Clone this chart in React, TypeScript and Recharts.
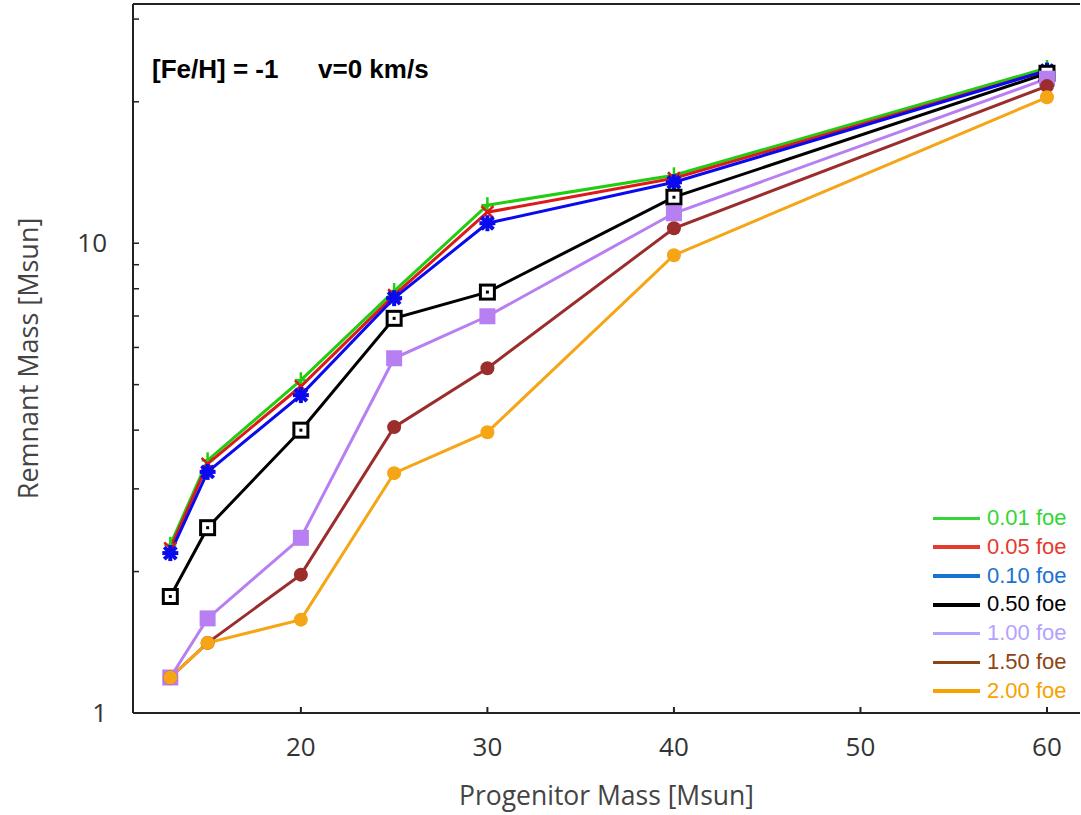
import React from 'react';
import { LineChart, Line, XAxis, YAxis, Legend } from 'recharts';

// Progenitor masses [Msun]
const masses = [13, 15, 20, 25, 30, 40, 60];

// Remnant masses [Msun] for each explosion energy
const foe001 = [2.28, 3.45, 5.11, 7.91, 12.05, 13.95, 23.6];
const foe005 = [2.24, 3.39, 4.96, 7.75, 11.64, 13.75, 23.3];
const foe010 = [2.19, 3.26, 4.75, 7.64, 11.03, 13.48, 23.3];
const foe050 = [1.77, 2.48, 4.0, 6.92, 7.87, 12.53, 23.0];
const foe100 = [1.19, 1.59, 2.36, 5.69, 6.99, 11.58, 22.4];
const foe150 = [1.19, 1.41, 1.97, 4.06, 5.42, 10.76, 21.6];
const foe200 = [1.19, 1.41, 1.58, 3.24, 3.96, 9.43, 20.45];

const seriesValues = [foe001, foe005, foe010, foe050, foe100, foe150, foe200];
const seriesLabels = ['0.01 foe', '0.05 foe', '0.10 foe', '0.50 foe', '1.00 foe', '1.50 foe', '2.00 foe'];
const lineColors = ['#22cc11', '#dd1a1a', '#0a0aee', '#000000', '#b77ff2', '#9b2d2d', '#f5a516'];
const legendColors = ['#33d633', '#e53a2f', '#1a72d0', '#000000', '#b3a3ff', '#8f4512', '#f7a200'];
const markerKinds = ['plus', 'cross', 'star', 'openSquare', 'square', 'circle', 'circle'];

const xTicks = [20, 30, 40, 50, 60];
const yTicks = [1, 2, 3, 4, 5, 6, 7, 8, 9, 10, 20, 30];
const yLabelTicks = [1, 10];

const titleLeft = '[Fe/H] = -1';
const titleRight = 'v=0 km/s';
const xLabel = 'Progenitor Mass [Msun]';
const yLabel = 'Remnant Mass [Msun]';

const data = masses.map((m, i) => {
  const row: Record<string, number> = { m };
  seriesValues.forEach((s, k) => {
    row['s' + k] = s[i];
  });
  return row;
});

const labelFont = '"Open Sans", "DejaVu Sans", sans-serif';

function makeDot(kind: string, color: string, k: number) {
  return (props: any) => {
    const { cx, cy, index } = props;
    const key = `dot-${k}-${index}`;
    if (cx == null || cy == null) return <g key={key} />;
    if (kind === 'plus') {
      return (
        <g key={key} stroke={color} strokeWidth={2.5}>
          <line x1={cx - 6} y1={cy} x2={cx + 6} y2={cy} />
          <line x1={cx} y1={cy - 8} x2={cx} y2={cy + 6} />
        </g>
      );
    }
    if (kind === 'cross') {
      return (
        <g key={key} stroke={color} strokeWidth={2.5}>
          <line x1={cx - 6} y1={cy - 6} x2={cx + 6} y2={cy + 6} />
          <line x1={cx - 6} y1={cy + 6} x2={cx + 6} y2={cy - 6} />
        </g>
      );
    }
    if (kind === 'star') {
      return (
        <g key={key} stroke={color} strokeWidth={4}>
          <line x1={cx - 8} y1={cy} x2={cx + 8} y2={cy} />
          <line x1={cx} y1={cy - 8} x2={cx} y2={cy + 8} />
          <line x1={cx - 6} y1={cy - 6} x2={cx + 6} y2={cy + 6} />
          <line x1={cx - 6} y1={cy + 6} x2={cx + 6} y2={cy - 6} />
        </g>
      );
    }
    if (kind === 'openSquare') {
      return (
        <g key={key}>
          <rect x={cx - 7} y={cy - 7} width={14} height={14} fill="#fff" stroke={color} strokeWidth={3} />
          <rect x={cx - 1.5} y={cy - 1.5} width={3} height={3} fill={color} />
        </g>
      );
    }
    if (kind === 'square') {
      return <rect key={key} x={cx - 8} y={cy - 8} width={16} height={16} fill={color} />;
    }
    return <circle key={key} cx={cx} cy={cy} r={7} fill={color} />;
  };
}

// Zero-height outer box so the legend reserves no space in the chart layout.
const renderLegend = () => (
  <div style={{ height: 0, overflow: 'visible', position: 'relative' }}>
    <div
      style={{
        position: 'absolute',
        left: 0,
        top: 0,
        fontFamily: '"Liberation Sans", Arial, sans-serif',
        fontSize: 22,
        whiteSpace: 'nowrap',
      }}
    >
      {seriesLabels.map((lab, k) => (
        <div key={lab} style={{ display: 'flex', alignItems: 'center', height: 28.8 }}>
          <div style={{ width: 47, height: 3.5, background: legendColors[k], marginRight: 7 }} />
          <span style={{ color: legendColors[k], lineHeight: '28.8px' }}>{lab}</span>
        </div>
      ))}
    </div>
  </div>
);

const YLabel = (props: any) => {
  const vb = props.viewBox || { x: 0, y: 0, width: 0, height: 0 };
  const cx = 27;
  const cy = vb.y + vb.height / 2;
  return (
    <text
      x={cx}
      y={cy}
      transform={`rotate(-90 ${cx} ${cy})`}
      textAnchor="middle"
      dominantBaseline="central"
      fontFamily={labelFont}
      fontSize={27}
      fill="#444"
    >
      {yLabel}
    </text>
  );
};

export default function App() {
  return (
    <div style={{ position: 'absolute', left: 0, top: 0, width: 1081, height: 815, background: '#fff' }}>
      <LineChart
        width={1081}
        height={815}
        data={data}
        margin={{ top: 3, right: 0, bottom: 0, left: 0 }}
      >
        <XAxis
          dataKey="m"
          type="number"
          domain={[11, 61.77]}
          allowDataOverflow
          ticks={xTicks}
          height={102}
          tickSize={-6}
          tickMargin={31}
          axisLine={{ stroke: '#222', strokeWidth: 2 }}
          tickLine={{ stroke: '#222', strokeWidth: 2 }}
          tick={{ fontFamily: labelFont, fontSize: 26, fill: '#333' }}
          label={{ value: xLabel, position: 'insideBottom', offset: 10, fontFamily: labelFont, fontSize: 26.5, fill: '#444' }}
        />
        <XAxis
          xAxisId="top"
          orientation="top"
          type="number"
          domain={[11, 61.77]}
          allowDataOverflow
          ticks={xTicks}
          height={1}
          tickSize={-6}
          tick={false}
          axisLine={{ stroke: '#222', strokeWidth: 2 }}
          tickLine={{ stroke: '#222', strokeWidth: 2 }}
        />
        <YAxis
          type="number"
          scale="log"
          domain={[1, 32.3]}
          allowDataOverflow
          ticks={yTicks}
          width={133}
          tickSize={-6}
          tickMargin={32}
          interval={0}
          tickFormatter={(v: number) => (yLabelTicks.includes(v) ? String(v) : '')}
          axisLine={{ stroke: '#222', strokeWidth: 2 }}
          tickLine={{ stroke: '#222', strokeWidth: 1.5 }}
          tick={{ fontFamily: labelFont, fontSize: 26, fill: '#333' }}
          label={<YLabel />}
        />
        <YAxis
          yAxisId="right"
          orientation="right"
          type="number"
          scale="log"
          domain={[1, 32.3]}
          allowDataOverflow
          ticks={yTicks}
          interval={0}
          width={1}
          tickSize={-6}
          tick={false}
          axisLine={false}
          tickLine={{ stroke: '#222', strokeWidth: 1.5 }}
        />
        {seriesLabels.map((lab, k) => (
          <Line
            key={lab}
            dataKey={'s' + k}
            name={lab}
            stroke={lineColors[k]}
            strokeWidth={3}
            isAnimationActive={false}
            dot={makeDot(markerKinds[k], lineColors[k], k)}
            activeDot={false}
          />
        ))}
        <Legend
          layout="vertical"
          content={renderLegend}
          wrapperStyle={{ position: 'absolute', left: 933, top: 504, width: 148, height: 0 }}
        />
      </LineChart>
      <div
        style={{
          position: 'absolute',
          left: 152,
          top: 56,
          fontFamily: '"Liberation Sans", Arial, sans-serif',
          fontWeight: 'bold',
          fontSize: 26,
          lineHeight: '26px',
          color: '#000',
          whiteSpace: 'nowrap',
        }}
      >
        <span>{titleLeft}</span>
        <span style={{ position: 'absolute', left: 166 }}>{titleRight}</span>
      </div>
    </div>
  );
}
